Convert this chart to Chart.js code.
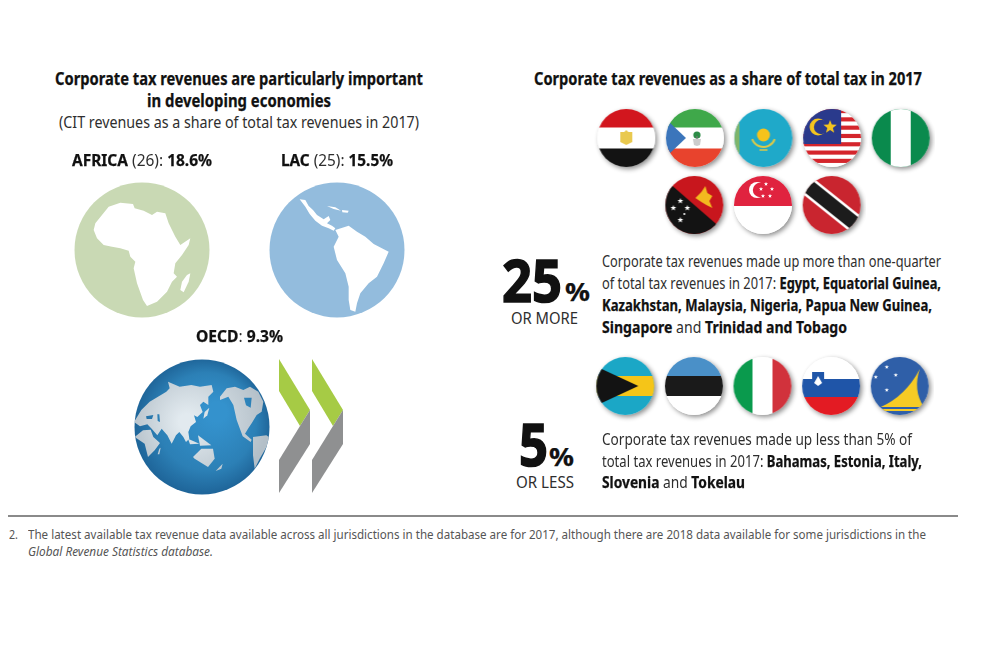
<!DOCTYPE html>
<html>
<head>
<meta charset="utf-8">
<title>Corporate tax revenues</title>
<script src="https://cdn.jsdelivr.net/npm/chart.js@4"></script>
<style>
html,body{margin:0;padding:0;background:#fff;width:994px;height:670px;overflow:hidden}
body{position:relative;font-family:"Noto Sans",sans-serif;color:#2e2e2e}
canvas{position:absolute}
.t{position:absolute;white-space:nowrap;transform-origin:left center}
.t b{font-weight:700;color:#111;-webkit-text-stroke:0.25px #111}
.t.big b{-webkit-text-stroke:1.6px #111}
#rule{position:absolute;left:8px;top:515px;width:950px;height:2px;background:#8a8a8a}
#logo{position:absolute;left:270px;top:350px}
</style>
</head>
<body>
<canvas id="africa" width="150" height="150" style="left:67px;top:175px"></canvas>
<canvas id="lac" width="150" height="150" style="left:262px;top:175px"></canvas>
<canvas id="oecd" width="150" height="150" style="left:127px;top:352px"></canvas>
<canvas id="high1" width="343" height="80" style="left:592px;top:97.5px"></canvas>
<canvas id="high2" width="206" height="80" style="left:660px;top:165px"></canvas>
<canvas id="low1" width="343" height="80" style="left:591px;top:346px"></canvas>
<svg id="logo" width="90" height="150" viewBox="0 0 90 150">
  <polygon points="9,9 40,60 30,76 9,41" fill="#a6cb45"/>
  <polygon points="40,60 40,94 9,143 9,110 30,76" fill="#8f9091"/>
  <polygon points="42,9 73,60 63,76 42,41" fill="#a6cb45"/>
  <polygon points="73,60 73,94 42,143 42,110 63,76" fill="#8f9091"/>
</svg>
<div id="rule"></div>
<script>
// chart values
const regions = ['AFRICA', 'LAC', 'OECD'];
const regionCounts = [26, 25];
const regionShares = [18.6, 15.5, 9.3];
const highRow1 = ['Egypt', 'Equatorial Guinea', 'Kazakhstan', 'Malaysia', 'Nigeria'];
const highRow2 = ['Papua New Guinea', 'Singapore', 'Trinidad and Tobago'];
const lowRow = ['Bahamas', 'Estonia', 'Italy', 'Slovenia', 'Tokelau'];
const highShare = 25;
const lowShare = 5;

function newArt(size) {
	var c = document.createElement('canvas');
	c.width = c.height = size;
	return c;
}
function rect(g, col, x, y, w, h) { g.fillStyle = col; g.fillRect(x, y, w, h); }
function poly(g, col, pts) {
	g.fillStyle = col;
	g.beginPath();
	pts.forEach(function(p, i) { i ? g.lineTo(p[0], p[1]) : g.moveTo(p[0], p[1]); });
	g.closePath();
	g.fill();
}
function dot(g, col, x, y, r) {
	g.fillStyle = col;
	g.beginPath();
	g.arc(x, y, r, 0, Math.PI * 2);
	g.fill();
}
function star(g, col, x, y, r) {
	var pts = [];
	for (var i = 0; i < 10; i++) {
		var a = -Math.PI / 2 + i * Math.PI / 5, q = i % 2 ? r * 0.42 : r;
		pts.push([x + Math.cos(a) * q, y + Math.sin(a) * q]);
	}
	poly(g, col, pts);
}

// flag pictures, used as point styles
const flagArt = {
	'Egypt': function(g) {
		rect(g, '#d2161e', -30, -30, 60, 20);
		rect(g, '#fff', -30, -10.5, 60, 21);
		rect(g, '#131313', -30, 10.5, 60, 20);
		poly(g, '#e9c94f', [[-6, -6], [-2, -6], [0, -8], [2, -6], [6, -6], [6, 4], [0, 7], [-6, 4]]);
	},
	'Equatorial Guinea': function(g) {
		rect(g, '#3fa84a', -30, -30, 60, 20);
		rect(g, '#fff', -30, -10.5, 60, 21);
		rect(g, '#e8432d', -30, 10.5, 60, 20);
		poly(g, '#3b75bb', [[-30, -20], [-9, 0], [-30, 20]]);
		dot(g, '#2c8c46', 2, -3, 3.6);
		rect(g, '#777', 1.4, -2, 1.2, 6);
		poly(g, '#ccc', [[-2, 1], [6, 1], [5, 7], [2, 8], [-1, 7]]);
	},
	'Kazakhstan': function(g) {
		rect(g, '#1fa9c9', -30, -30, 60, 60);
		rect(g, '#7fb56b', -30, -30, 6, 60);
		dot(g, '#f5c31c', 0, -3, 6.5);
		g.strokeStyle = '#d9c94a'; g.lineWidth = 2;
		g.beginPath(); g.arc(0, -3, 12, 0.35, Math.PI - 0.35); g.stroke();
		g.lineWidth = 1.5;
		g.beginPath(); g.moveTo(-4, 12); g.lineTo(4, 12); g.stroke();
	},
	'Malaysia': function(g) {
		rect(g, '#fff', -30, -30, 60, 60);
		for (var i = 0; i < 7; i++) rect(g, '#d4252c', -30, -29 + i * 8.3, 60, 4.15);
		rect(g, '#2a3a8c', -30, -30, 39, 36);
		dot(g, '#f4c51e', -14, -11, 8.5);
		dot(g, '#2a3a8c', -11, -11, 7.2);
		star(g, '#f4c51e', -2, -11, 7);
	},
	'Nigeria': function(g) {
		rect(g, '#0a8a4d', -30, -30, 60, 60);
		rect(g, '#fff', -10, -30, 20, 60);
	},
	'Papua New Guinea': function(g) {
		rect(g, '#c8161d', -30, -30, 60, 60);
		poly(g, '#131313', [[-30, -26], [30, 26], [30, 30], [-30, 30]]);
		poly(g, '#f3b91f', [[1, -7], [7, -13], [11, -19], [13, -12], [18, -9], [15, -4], [18, 3], [12, 0], [7, -3]]);
		star(g, '#fff', -14, -4, 3);
		star(g, '#fff', -7, 3, 3);
		star(g, '#fff', -21, 3, 3);
		star(g, '#fff', -14, 15, 3);
		dot(g, '#fff', -10, 9, 1);
	},
	'Singapore': function(g) {
		rect(g, '#e0233f', -30, -30, 60, 31);
		rect(g, '#fff', -30, 1, 60, 30);
		dot(g, '#fff', -6, -15, 8);
		dot(g, '#e0233f', -3, -15, 7.2);
		star(g, '#fff', 3, -21, 2.2);
		star(g, '#fff', 9, -16, 2.2);
		star(g, '#fff', 7, -9, 2.2);
		star(g, '#fff', 0, -9, 2.2);
		star(g, '#fff', -2, -16, 2.2);
	},
	'Trinidad and Tobago': function(g) {
		rect(g, '#c9252f', -30, -30, 60, 60);
		g.save();
		g.rotate(Math.atan2(40, 50));
		rect(g, '#fff', -50, -9.5, 100, 19);
		rect(g, '#1c1c1c', -50, -7, 100, 14);
		g.restore();
	},
	'Bahamas': function(g) {
		rect(g, '#1ba7c6', -30, -30, 60, 60);
		rect(g, '#f5c518', -30, -10, 60, 20);
		poly(g, '#131313', [[-30, -20], [13, 0], [-30, 20]]);
	},
	'Estonia': function(g) {
		rect(g, '#4a90c8', -30, -30, 60, 20);
		rect(g, '#1a1a1a', -30, -10, 60, 20);
		rect(g, '#fff', -30, 10, 60, 20);
	},
	'Italy': function(g) {
		rect(g, '#0a9a4d', -30, -30, 20, 60);
		rect(g, '#fff', -10, -30, 20, 60);
		rect(g, '#d1323c', 10, -30, 20, 60);
	},
	'Slovenia': function(g) {
		rect(g, '#fff', -30, -30, 60, 23);
		rect(g, '#1f55a8', -30, -7, 60, 18);
		rect(g, '#e31b23', -30, 11, 60, 20);
		poly(g, '#1f55a8', [[-19, -14], [-7, -14], [-7, -4], [-13, 2], [-19, -4]]);
		poly(g, '#fff', [[-17, -3], [-13, -10], [-9, -3], [-13, 0]]);
	},
	'Tokelau': function(g) {
		rect(g, '#2f5fa8', -30, -30, 60, 60);
		g.fillStyle = '#f6cb25';
		g.beginPath();
		g.moveTo(-19, 21);
		g.quadraticCurveTo(6, 10, 20, -17);
		g.quadraticCurveTo(13, 4, 24, 21);
		g.closePath();
		g.fill();
		rect(g, '#f6cb25', -19, 23, 44, 2);
		star(g, '#fff', -13, -19, 2.2);
		star(g, '#fff', -24, -9, 2.2);
		star(g, '#fff', -4, -11, 2.2);
		star(g, '#fff', -13, 4, 2.2);
	}
};

function flagPicture(name) {
	var c = newArt(76), g = c.getContext('2d'), r = 29;
	g.translate(38, 38);
	g.save();
	g.shadowColor = 'rgba(0,0,0,0.45)';
	g.shadowBlur = 5;
	g.shadowOffsetX = 2;
	g.shadowOffsetY = 2;
	dot(g, '#fff', 0, 0, r);
	g.restore();
	g.beginPath();
	g.arc(0, 0, r, 0, Math.PI * 2);
	g.clip();
	flagArt[name](g);
	return c;
}

// outlines below follow the reference at 3x, relative to each globe centre
function land(g, col, pts, cx, cy) {
	poly(g, col, pts.map(function(p) { return [(p[0] - cx) / 3, (p[1] - cy) / 3]; }));
}
function globePicture(name) {
	var c = newArt(150), g = c.getContext('2d');
	g.translate(75, 75);
	g.beginPath();
	g.arc(0, 0, 67.5, 0, Math.PI * 2);
	g.clip();
	if (name === 'AFRICA') {
		rect(g, '#c9d9b4', -75, -75, 150, 150);
		land(g, '#fff', [[160,510],[165,490],[185,465],[205,440],[240,428],[278,432],[283,445],[310,452],[335,465],[350,455],[375,460],[385,490],[405,530],[420,555],[450,535],[445,555],[425,585],[405,610],[400,640],[410,650],[395,665],[380,695],[350,725],[320,738],[308,720],[290,670],[280,625],[285,605],[270,590],[265,572],[240,565],[215,560],[190,555],[170,535]], 305, 570);
		land(g, '#fff', [[440,645],[450,640],[445,665],[430,697],[420,690],[425,665]], 305, 570);
	} else if (name === 'LAC') {
		rect(g, '#93bcdd', -75, -75, 150, 150);
		land(g, '#fff', [[778,418],[795,420],[805,438],[818,450],[830,465],[850,478],[865,468],[870,480],[860,490],[875,497],[885,505],[880,512],[865,505],[845,497],[825,482],[808,462],[795,440]], 890, 570);
		land(g, '#fff', [[885,510],[925,497],[950,515],[975,530],[1000,552],[1045,575],[1030,610],[1010,650],[985,670],[960,700],[950,730],[945,755],[930,750],[925,720],[925,680],[915,640],[890,600],[880,560],[895,530]], 890, 570);
		land(g, '#fff', [[860,438],[885,442],[902,452],[880,447]], 890, 570);
		land(g, '#fff', [[905,450],[925,452],[922,458],[906,457]], 890, 570);
	} else {
		var sea = g.createRadialGradient(15, -15, 10, 0, 0, 70);
		sea.addColorStop(0, '#3492cd');
		sea.addColorStop(0.65, '#2c80b6');
		sea.addColorStop(1, '#1d6296');
		rect(g, sea, -75, -75, 150, 150);
		var col = g.createRadialGradient(-15, -5, 8, -5, -5, 70);
		col.addColorStop(0, '#e2eaef');
		col.addColorStop(1, '#b3bfc8');
		var cx = 246, cy = 320;
		land(g, col, [[42,305],[64,269],[89,244],[114,229],[139,214],[149,204],[144,184],[179,199],[214,194],[240,199],[275,194],[280,214],[265,229],[265,254],[250,244],[240,254],[248,275],[232,290],[222,285],[228,305],[212,318],[205,335],[208,355],[198,365],[190,350],[178,335],[168,345],[155,370],[142,345],[125,325],[112,345],[95,325],[82,312],[60,318]], cx, cy);
		land(g, col, [[44,350],[69,330],[92,328],[100,350],[120,368],[104,390],[84,410],[74,370]], cx, cy);
		land(g, col, [[219,410],[244,385],[279,385],[284,415],[264,440],[224,415]], cx, cy);
		land(g, col, [[300,229],[320,204],[345,199],[370,209],[390,199],[415,214],[430,244],[425,274],[410,284],[395,309],[385,324],[375,340],[395,358],[392,365],[368,348],[350,299],[340,254],[325,229],[300,239]], cx, cy);
		land(g, col, [[399,350],[439,345],[454,355],[419,415],[404,445],[399,405]], cx, cy);
		land(g, col, [[287,452],[308,430],[304,445]], cx, cy);
		land(g, col, [[204,355],[238,370],[210,372]], cx, cy);
		land(g, col, [[234,345],[274,375],[240,376]], cx, cy);
		land(g, col, [[254,275],[268,262],[262,285],[250,295]], cx, cy);
		land(g, col, [[118,385],[122,382],[118,402],[113,402]], cx, cy);
		// inland seas
		land(g, sea, [[78,288],[100,284],[96,296],[80,296]], cx, cy);
		land(g, sea, [[112,282],[118,282],[120,305],[113,302]], cx, cy);
		land(g, sea, [[372,232],[395,232],[392,262],[378,255]], cx, cy);
	}
	return c;
}

// one row of pictures along a category axis, both axes hidden
function pictureRow(id, labels, values, pictures) {
	return new Chart(document.getElementById(id), {
		type: 'line',
		data: {
			labels: labels,
			datasets: [{
				data: values,
				showLine: false,
				clip: false,
				pointStyle: pictures,
				pointRadius: 3
			}]
		},
		options: {
			responsive: false,
			animation: false,
			events: [],
			layout: { padding: 0, autoPadding: false },
			plugins: { legend: { display: false }, tooltip: { enabled: false } },
			scales: {
				x: { type: 'category', offset: true, display: false },
				y: { min: 0, max: values[0] * 2, display: false }
			}
		}
	});
}

regions.forEach(function(name, i) {
	pictureRow(name.toLowerCase(), [name], [regionShares[i]], [globePicture(name)]);
});
pictureRow('high1', highRow1, highRow1.map(function() { return highShare; }), highRow1.map(flagPicture));
pictureRow('high2', highRow2, highRow2.map(function() { return highShare; }), highRow2.map(flagPicture));
pictureRow('low1', lowRow, lowRow.map(function() { return lowShare; }), lowRow.map(flagPicture));

// text: one element per line, squeezed to the width measured on the reference
function line(html, x, y, width, size, extra, cls) {
	var d = document.createElement('div');
	d.className = 't' + (cls ? ' ' + cls : '');
	d.innerHTML = html;
	d.style.left = x + 'px';
	d.style.top = (y - size) + 'px';
	d.style.lineHeight = (size * 2) + 'px';
	d.style.fontSize = size + 'px';
	if (extra) d.style.cssText += extra;
	document.body.appendChild(d);
	d.style.transform = 'scaleX(' + (width / d.getBoundingClientRect().width) + ')';
}

line('<b>Corporate tax revenues are particularly important</b>', 55, 79, 368, 17);
line('<b>in developing economies</b>', 147, 101, 184, 17);
line('(CIT revenues as a share of total tax revenues in 2017)', 59, 122, 360, 16);
line('<b>' + regions[0] + '</b> (' + regionCounts[0] + '): <b>' + regionShares[0] + '%</b>', 72, 160, 140, 16);
line('<b>' + regions[1] + '</b> (' + regionCounts[1] + '): <b>' + regionShares[1] + '%</b>', 281, 160, 112, 16);
line('<b>' + regions[2] + '</b>: <b>' + regionShares[2] + '%</b>', 196, 336, 87, 16);
line('<b>Corporate tax revenues as a share of total tax in 2017</b>', 534, 79, 388, 17);

line('<b>' + highShare + '</b>', 502, 279, 60, 60, '', 'big');
line('<b>%</b>', 565, 291, 25, 25);
line('OR MORE', 511, 317, 67, 16.5);
line('Corporate tax revenues made up more than one-quarter', 602, 261, 339, 16);
line('of total tax revenues in 2017: <b>Egypt, Equatorial Guinea,</b>', 602, 283, 339, 16);
line('<b>Kazakhstan, Malaysia, Nigeria, Papua New Guinea,</b>', 602, 305, 330, 16);
line('<b>Singapore</b> and <b>Trinidad and Tobago</b>', 602, 327, 245, 16);

line('<b>' + lowShare + '</b>', 519, 443, 29, 60, '', 'big');
line('<b>%</b>', 549, 456, 25, 25);
line('OR LESS', 516, 481, 58, 16.5);
line('Corporate tax revenues made up less than 5% of', 602, 439, 310, 16);
line('total tax revenues in 2017: <b>Bahamas, Estonia, Italy,</b>', 602, 461, 320, 16);
line('<b>Slovenia</b> and <b>Tokelau</b>', 602, 482, 143, 16);

line('2.', 9, 534, 9, 12.5, 'color:#555');
line('The latest available tax revenue data available across all jurisdictions in the database are for 2017, although there are 2018 data available for some jurisdictions in the', 28, 534, 898, 12.5, 'color:#555');
line('Global Revenue Statistics database.', 28, 551, 185, 12.5, 'color:#555;font-style:italic');
</script>
</body>
</html>
